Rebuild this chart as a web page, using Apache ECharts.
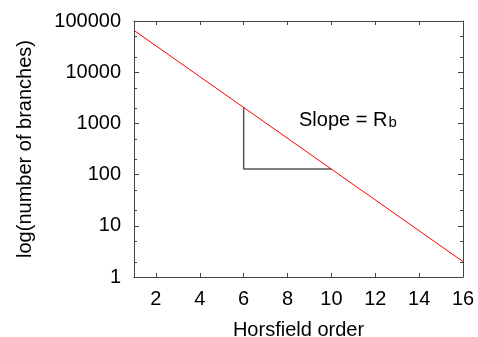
<!DOCTYPE html>
<html><head><meta charset="utf-8">
<script src="https://cdn.jsdelivr.net/npm/echarts@6/dist/echarts.min.js"></script>
<style>html,body{margin:0;padding:0;background:#fff}#c{width:478px;height:337px}</style>
</head><body><div id="c"></div>
<script>
const orders = [1, 16];
const branches = [65536, 2];
const triangleX = [6, 6, 10];
const triangleY = [2048, 128, 128];
const xTicks = [2, 4, 6, 8, 10, 12, 14, 16];
const yMajor = [1, 10, 100, 1000, 10000, 100000];
const yMinor = [2, 5, 20, 50, 200, 500, 2000, 5000, 20000, 50000];
const xName = 'Horsfield order';
const yName = 'log(number of branches)';

const FONT = '"Liberation Sans", Arial, Helvetica, sans-serif';
const FS = 20;
const AX = '#444';
const chart = echarts.init(document.getElementById('c'), null, {renderer: 'canvas'});

function xAxisCfg(pos, show) {
  return {
    type: 'value', min: 1, max: 16, position: pos,
    name: show ? xName : '', nameLocation: 'middle', nameGap: 43,
    nameTextStyle: {fontFamily: FONT, fontSize: FS, color: '#000'},
    axisLine: {show: true, onZero: false, lineStyle: {color: AX, width: 1}},
    axisTick: {show: true, inside: true, length: 4, customValues: xTicks, lineStyle: {color: AX}},
    axisLabel: {show: show, customValues: xTicks, margin: 12, fontFamily: FONT, fontSize: FS, color: '#000'},
    splitLine: {show: false}
  };
}
function yAxisCfg(pos, show) {
  return {
    type: 'log', logBase: 10, min: 1, max: 100000, position: pos,
    name: show ? yName : '', nameLocation: 'middle', nameGap: 99,
    nameTextStyle: {fontFamily: FONT, fontSize: FS, color: '#000'},
    axisLine: {show: true, onZero: false, lineStyle: {color: AX, width: 1}},
    axisTick: {show: true, inside: true, length: 5, lineStyle: {color: AX}},
    axisLabel: {show: show, margin: 13, fontFamily: FONT, fontSize: FS, color: '#000',
      formatter: v => String(Math.round(v))},
    splitLine: {show: false}
  };
}

const minorData = yMinor.map(v => [v]);

chart.setOption({
  animation: false,
  grid: {left: 134, right: 15, top: 21, bottom: 60, containLabel: false, outerBoundsMode: 'none'},
  xAxis: [xAxisCfg('bottom', true), xAxisCfg('top', false)],
  yAxis: [yAxisCfg('left', true), yAxisCfg('right', false)],
  series: [
    {
      type: 'line', xAxisIndex: 0, yAxisIndex: 0,
      data: orders.map((o, i) => [o, branches[i]]),
      symbol: 'none', lineStyle: {color: '#ff0000', width: 1}, z: 5
    },
    {
      type: 'line', xAxisIndex: 0, yAxisIndex: 0,
      data: triangleX.map((x, i) => [x, triangleY[i]]),
      symbol: 'none', lineStyle: {color: '#555', width: 1.5}, z: 4
    },
    {
      type: 'custom', xAxisIndex: 0, yAxisIndex: 0,
      data: minorData,
      renderItem: function (params, api) {
        const v = api.value(0);
        const l = api.coord([1, v]);
        const r = api.coord([16, v]);
        const y = Math.round(l[1]) + 0.5;
        return {
          type: 'group',
          children: [
            {type: 'line', shape: {x1: l[0], y1: y, x2: l[0] + 3, y2: y}, style: {stroke: AX, lineWidth: 1}},
            {type: 'line', shape: {x1: r[0], y1: y, x2: r[0] - 3, y2: y}, style: {stroke: AX, lineWidth: 1}}
          ]
        };
      },
      silent: true, z: 3
    }
  ],
  graphic: [{
    type: 'text', left: 299, top: 107,
    style: {
      text: '{a|Slope = R}{b|b}',
      rich: {
        a: {fontFamily: FONT, fontSize: FS, fill: '#000', lineHeight: 22, verticalAlign: 'bottom'},
        b: {fontFamily: FONT, fontSize: 15, fill: '#000', lineHeight: 22, verticalAlign: 'bottom', padding: [8, 0, 0, 1]}
      }
    }
  }]
});
</script></body></html>
